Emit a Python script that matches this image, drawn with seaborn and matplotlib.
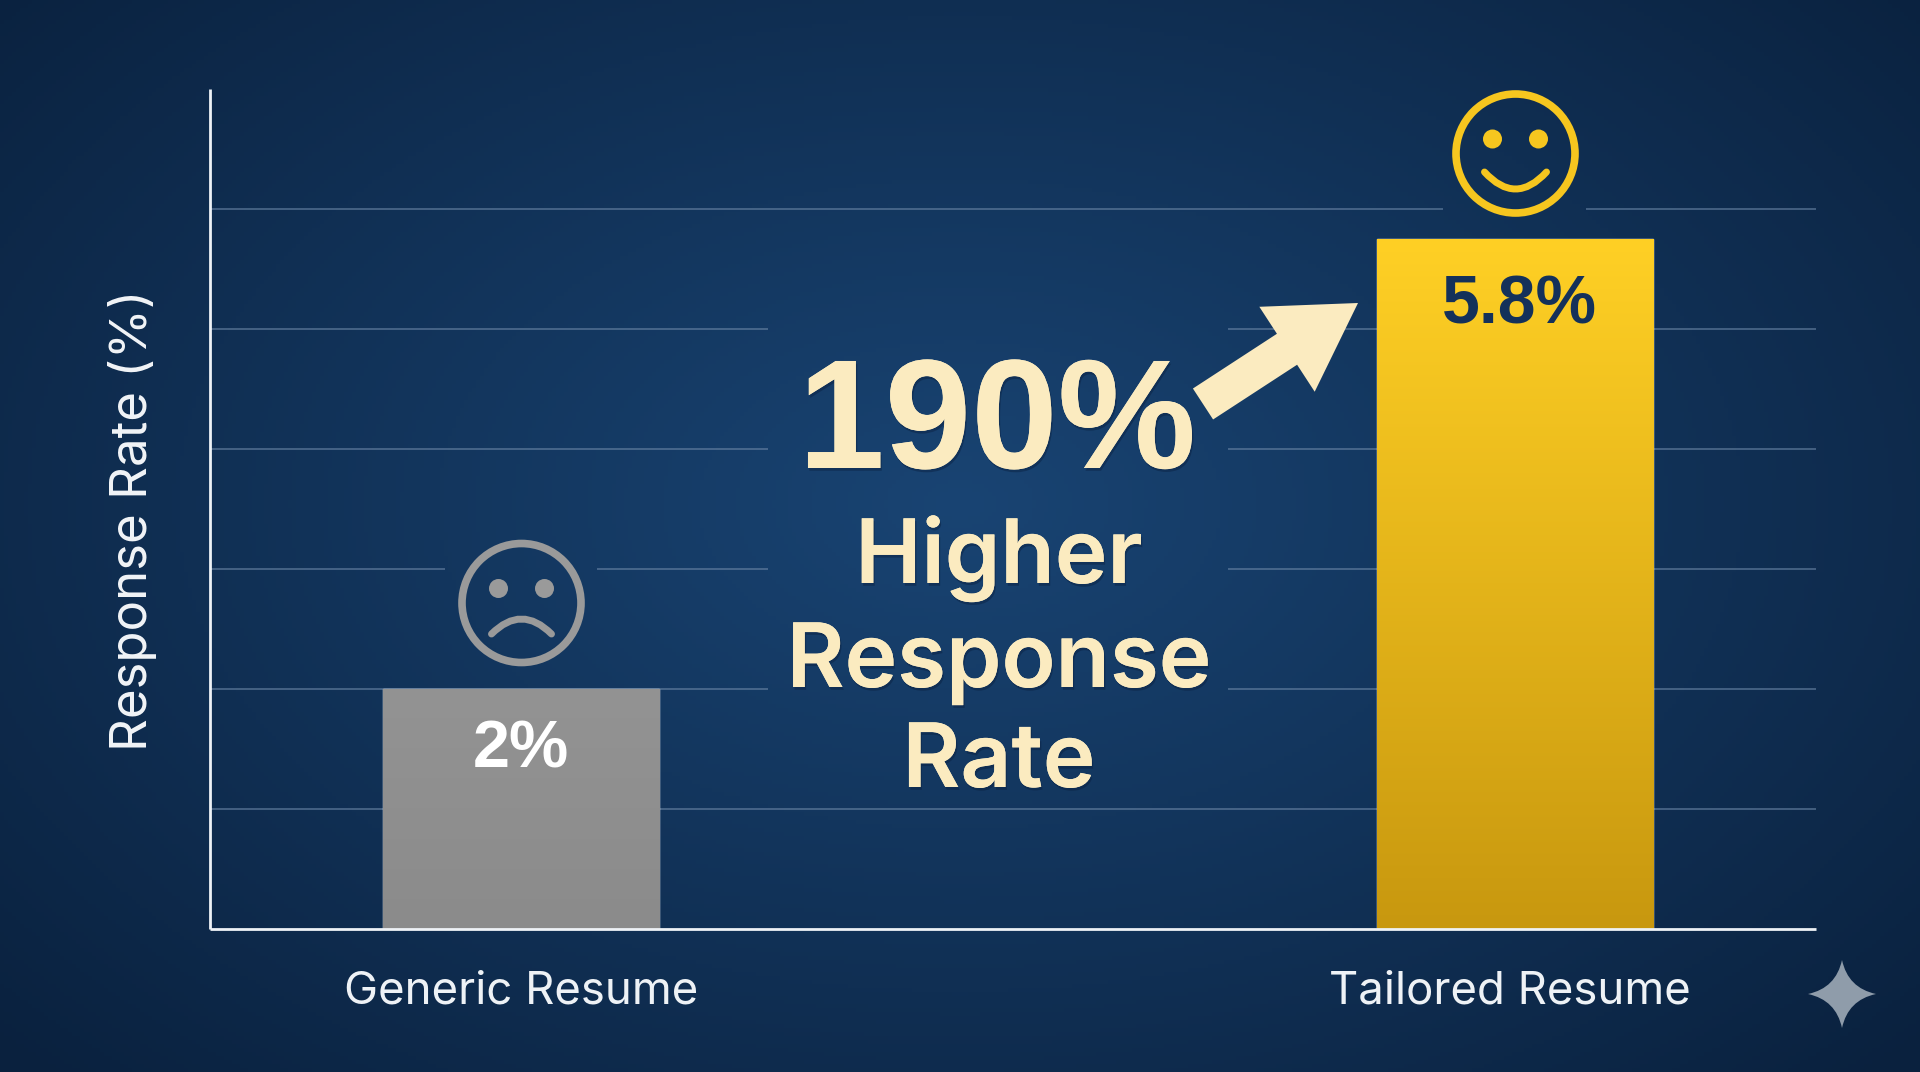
import numpy as np
import pandas as pd
import matplotlib
matplotlib.use("Agg")
import matplotlib.pyplot as plt
import matplotlib.patheffects as pe
from matplotlib.patches import Circle, PathPatch
from matplotlib.path import Path
from matplotlib.transforms import ScaledTranslation
import seaborn as sns

categories = ["Generic Resume", "Tailored Resume"]
# bar heights as measured on the 1% grid, labels as printed
rates = [2.0, 5.75]
rate_labels = ["2%", "5.8%"]
grid_levels = [1, 2, 3, 4, 5, 6]
callout_big = "190%"
callout_lines = ["Higher", "Response", "Rate"]

W, H = 1920, 1072
sns.set_theme(style="white")
plt.rcParams["font.family"] = ["Inter", "Liberation Sans", "DejaVu Sans"]

fig = plt.figure(figsize=(W / 100, H / 100), dpi=100)

# background glow
bg = fig.add_axes([0, 0, 1, 1], zorder=0)
yy, xx = np.mgrid[0:1:268j, 0:1:480j]
dist = np.clip(np.sqrt(((xx - 0.5) / 0.68) ** 2 + ((yy - 0.47) / 0.76) ** 2), 0, 1)
inner, outer = np.array([25, 68, 115]) / 255, np.array([10, 33, 62]) / 255
bg.imshow(inner + (outer - inner) * dist[..., None], aspect="auto", extent=[0, 1, 0, 1])
bg.axis("off")

# main axes, placed on the pixel frame of the picture
x0, x1, y_top, y_base = 210, 1816, 89, 929
ax = fig.add_axes([x0 / W, 1 - y_base / H, (x1 - x0) / W, (y_base - y_top) / H], zorder=1)
ax.patch.set_alpha(0)

df = pd.DataFrame({"category": categories, "rate": rates})
sns.barplot(data=df, x="category", y="rate", hue="category", width=0.278, legend=False,
            palette=["#8f8f8f", "#f0c020"], ax=ax, zorder=3)

# vertical gradient on each bar
gradients = [("#939393", "#8b8b8b"), ("#ffd025", "#c8980f")]
for bar, (top, bottom) in zip(ax.patches, gradients):
    c1 = np.array(matplotlib.colors.to_rgb(top))
    c2 = np.array(matplotlib.colors.to_rgb(bottom))
    t = np.linspace(0, 1, 256)[:, None, None]
    im = ax.imshow(c1 + (c2 - c1) * t, aspect="auto", zorder=4,
                   extent=[bar.get_x(), bar.get_x() + bar.get_width(), 0, bar.get_height()])
    im.set_clip_path(bar)

ax.set_xlim(-(521 - x0) / 994, (x1 - 521) / 994)
ax.set_ylim(0, (y_base - y_top) / 120)


def frac(px):
    return (px - x0) / (x1 - x0)


# gridlines stop short of the faces and the callout
gaps = {1: [], 2: [(768, 1228)], 3: [(445, 597), (768, 1228)], 4: [(768, 1228)],
        5: [(768, 1228)], 6: [(1443, 1586)]}
for level in grid_levels:
    start = x0
    for a, b in gaps[level] + [(x1, x1)]:
        ax.hlines(level, frac(start), frac(a), transform=ax.get_yaxis_transform(),
                  color="#6d88a8", lw=1.1, alpha=0.72, zorder=1)
        start = b

sns.despine(ax=ax)
for side in ["left", "bottom"]:
    ax.spines[side].set_color("#eef2f6")
    ax.spines[side].set_linewidth(2)
    ax.spines[side].set_zorder(6)
    ax.spines[side].set_capstyle("butt")
ax.set_yticks([])
ax.set_xlabel("")
ax.set_ylabel("Response Rate (%)", fontsize=36.7, color="#f2f5f8", labelpad=0)
ax.yaxis.set_label_coords((157 - x0) / (x1 - x0), (y_base - 520) / (y_base - y_top))
ax.tick_params(axis="x", length=0, pad=30, labelsize=32.8, labelcolor="#eef2f6")
tailored = ax.get_xticklabels()[1]
tailored.set_transform(tailored.get_transform() + ScaledTranslation(-5 / 100, 0, fig.dpi_scale_trans))

# overlay in picture pixels for annotation glyphs
ov = fig.add_axes([0, 0, 1, 1], zorder=2)
ov.set_xlim(0, W)
ov.set_ylim(H, 0)
ov.axis("off")
ov.patch.set_alpha(0)

number_font = ["Liberation Sans", "DejaVu Sans"]
ov.text(521, 767, rate_labels[0], color="white", fontsize=48, fontweight="bold",
        family=number_font, ha="center", va="baseline")
ov.text(1519, 324, rate_labels[1], color="#14315a", fontsize=49, fontweight="bold",
        family=number_font, ha="center", va="baseline")


def face(cx, cy, color, mouth_end_y, mouth_ctrl_y, half):
    ov.add_patch(Circle((cx, cy), 59.5, fill=False, ec=color, lw=5.5))
    for dx in (-23, 23):
        ov.add_patch(Circle((cx + dx, cy - 14.5), 9.5, fc=color, ec="none"))
    mouth = Path([(cx - half, mouth_end_y), (cx, mouth_ctrl_y), (cx + half, mouth_end_y)],
                 [Path.MOVETO, Path.CURVE3, Path.CURVE3])
    ov.add_patch(PathPatch(mouth, fill=False, ec=color, lw=5, capstyle="round"))


face(521.5, 603, "#9a9a9a", 634, 604, 30)
face(1515.5, 153.5, "#f6c61f", 172, 206, 31)

cream = "#fbebc0"
shadow = [pe.withSimplePatchShadow(offset=(1, -2), shadow_rgbFace="#0a2040", alpha=0.45), pe.Normal()]
ov.text(997, 468, callout_big, color=cream, fontsize=112, fontweight="bold", family=number_font,
        ha="center", va="baseline", path_effects=shadow)
for line, base in zip(callout_lines, [583, 687, 787]):
    ov.text(999, base, line, color=cream, fontsize=64, fontweight="semibold", ha="center",
            va="baseline", path_effects=shadow)

# arrow from the callout up to the tailored bar
ov.annotate("", xy=(1358, 303), xytext=(1203, 404),
            arrowprops=dict(fc=cream, ec="none", width=26.6, headwidth=73, headlength=61, shrink=0))

# corner sparkle
cx, cy, r, k = 1842, 994, 34, 6
verts = [(cx, cy - r), (cx + k, cy - k), (cx + r, cy), (cx + k, cy + k), (cx, cy + r),
         (cx - k, cy + k), (cx - r, cy), (cx - k, cy - k), (cx, cy - r)]
star = Path(verts, [Path.MOVETO] + [Path.CURVE3] * 8)
ov.add_patch(PathPatch(star, fc="#8f9caa", ec="none"))

fig.savefig("out.png", dpi=100)
